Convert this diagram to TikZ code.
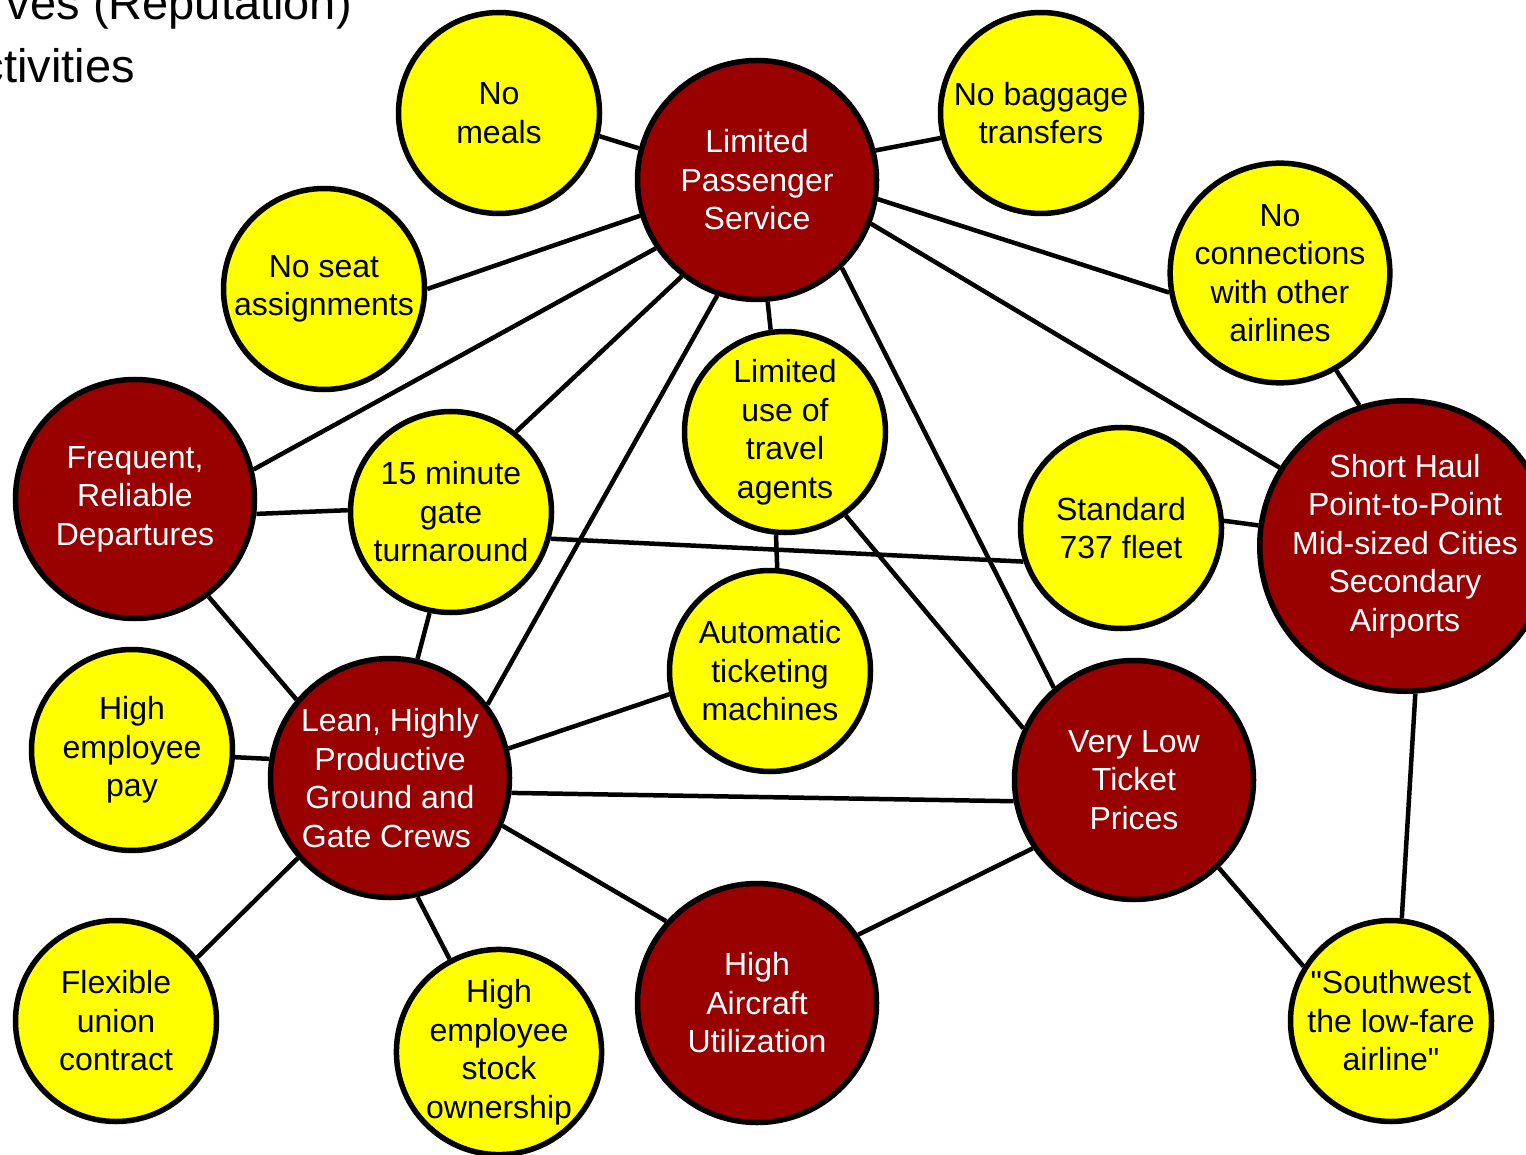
\documentclass[tikz,border=0pt]{standalone}
\usepackage{fontspec}
\setmainfont{Liberation Sans}
\definecolor{corered}{HTML}{990000}
\definecolor{leafyellow}{HTML}{FFFF00}
% straight double quote, set as a glyph so no text mapping curls it
\newcommand\plainquote{\XeTeXglyph\XeTeXglyphindex "quotedbl" }
\begin{document}
\begin{tikzpicture}[x=1pt,y=-1pt,
  bubble/.style={circle, draw=black, line width=5.5pt, inner sep=0pt, align=center,
    font=\fontsize{32}{38.5}\selectfont},
  leaf/.style={bubble, fill=leafyellow, text=black, minimum size=201pt},
  core/.style={bubble, fill=corered, text=white, minimum size=239pt},
  link/.style={line width=4.5pt},
  heading/.style={anchor=base east, inner sep=0pt, font=\fontsize{47}{56}\selectfont}]
\useasboundingbox (0,0) rectangle (1526,1155);

% heading fragments at the top left
\node[heading] (h1) at (352,20) {ves (Reputation)};
\node[heading] (h2) at (135,83) {ctivities};

% core themes
\node[core] (lps)   at (757,180)  {Limited\\Passenger\\Service};
\node[core] (frd)   at (135,499)  {Frequent,\\Reliable\\Departures};
\node[core] (sh)    at (1405,546) {Short Haul\\Point-to-Point\\Mid-sized Cities\\Secondary\\Airports};
\node[core] (lean)  at (390,778)  {Lean, Highly\\Productive\\Ground and\\Gate Crews\hphantom{i}};
\node[core] (vl)    at (1134,780) {Very Low\\Ticket\\Prices};
\node[core] (hau)   at (757,1003) {High\\Aircraft\\Utilization};

% supporting activities
\node[leaf] (nm)    at (499,113)  {No\\meals};
\node[leaf] (nb)    at (1041,113) {No baggage\\transfers};
\node[leaf] (ns)    at (324,289)  {No seat\\assignments};
\node[leaf] (nc)    at (1280,273) {No\\connections\\with other\\airlines};
\node[leaf] (lta)   at (785,432)  {Limited\\use of\\travel\\agents};
\node[leaf] (gate)  at (451,512)  {15 minute\\gate\\turnaround};
\node[leaf] (fleet) at (1121,528) {Standard\\737 fleet};
\node[leaf] (atm)   at (770,671)  {Automatic\\ticketing\\machines};
\node[leaf] (pay)   at (132,750)  {High\\employee\\pay};
\node[leaf] (union) at (116,1021) {Flexible\\union\\contract};
\node[leaf] (stock) at (499,1052) {High\\employee\\stock\\ownership};
\node[leaf] (sw)    at (1391,1021) {\plainquote Southwest\\the low-fare\\airline\plainquote};

% connections
\draw[link] (lps.165)  -- (nm.-13);
\draw[link] (lps.14)   -- (nb.194);
\draw[link] (lps.197)  -- (ns.0);
\draw[link] (lps.-9)   -- (nc.190);
\draw[link] (lps.-21)  -- (sh.148);
\draw[link] (lps.214.5) -- (frd.14.5);
\draw[link] (lps.232)  -- (gate.51);
\draw[link] (lps.251)  -- (lean.37);
\draw[link] (lps.-85)  -- (lta.98);
\draw[link] (lps.-46)  -- (vl.131);
\draw[link] (nc.-60)   -- (sh.108);
\draw[link] (frd.-7)   -- (gate.179);
\draw[link] (frd.-53)  -- (lean.140);
\draw[link] (gate.-15) -- (fleet.199.5);
\draw[link] (gate.258.5) -- (lean.77);
\draw[link] (fleet.4)  -- (sh.172.5);
\draw[link] (lta.-54)  -- (vl.155);
\draw[link] (lta.265.5) -- (atm.86);
\draw[link] (atm.193)  -- (lean.14);
\draw[link] (pay.-4)   -- (lean.171);
\draw[link] (lean.-7)  -- (vl.190.5);
\draw[link] (lean.-23) -- (hau.138);
\draw[link] (lean.221) -- (union.38);
\draw[link] (lean.-77) -- (stock.118.5);
\draw[link] (hau.34)   -- (vl.214);
\draw[link] (vl.-46)   -- (sw.148.5);
\draw[link] (sh.-86)   -- (sw.84);
\end{tikzpicture}
\end{document}
